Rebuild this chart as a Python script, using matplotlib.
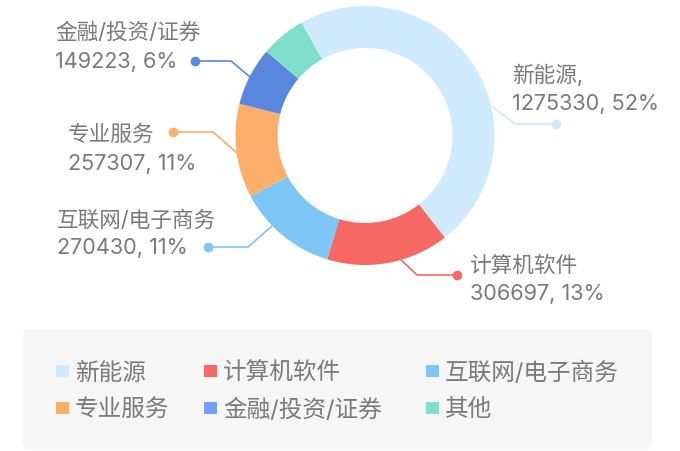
import matplotlib.pyplot as plt
from matplotlib.patches import FancyBboxPatch, Rectangle

plt.rcParams['font.family'] = ['Inter', 'Noto Sans CJK SC', 'DejaVu Sans']

# data
industries = ['新能源', '计算机软件', '互联网/电子商务', '专业服务', '金融/投资/证券', '其他']
values = [1275330, 306697, 270430, 257307, 149223]   # 其他 has no label
percents = [52, 13, 11, 11, 6]
# size of each arc as drawn in the source (% of the ring); the drawn arcs
# do not follow the label numbers, so they are read separately
arc_share = [47.6, 15.3, 12.5, 11.7, 7.3, 5.6]

slice_colors = ['#cfeafd', '#f56864', '#7ec6f6', '#feae6b', '#5a87de', '#7fdfcb']
legend_colors = ['#cfeafd', '#f56864', '#7ec6f6', '#feae6b', '#76a0f8', '#7fdfcb']
text_color = '#7a7a7a'

H = 452


def py(y):
    # pixel row (top = 0) -> axis y (bottom = 0)
    return H - y


fig = plt.figure(figsize=(6.8, 4.52), dpi=100)
ax = fig.add_axes([0, 0, 1, 1])

# donut
ax.pie(arc_share, colors=slice_colors, center=(365, py(136.5)), radius=129.5,
       startangle=119.4, counterclock=False, frame=True,
       wedgeprops=dict(width=42, linewidth=0))

# leader lines + labels (layout only)
leaders = [
    [(493, 108), (515, 125), (556, 125)],
    [(400, 260), (417, 276), (457, 276)],
    [(272, 227), (248, 248), (208, 248)],
    [(237, 154), (213, 133), (173, 133)],
    [(250, 78), (231, 62), (195, 62)],
]
label_pos = [(512, 75), (470, 266), (57, 220), (68, 135), (55, 33)]

for i, pts in enumerate(leaders):
    xs = [p[0] for p in pts]
    ys = [py(p[1]) for p in pts]
    ax.plot(xs, ys, color=slice_colors[i], lw=1.2, solid_capstyle='round')
    ax.plot(xs[-1], ys[-1], 'o', color=slice_colors[i], ms=7, mec='none')

    head = industries[i] + (',' if i == 0 else '')
    tx, ty = label_pos[i]
    ax.text(tx, py(ty), head, fontsize=15.6, color=text_color,
            ha='left', va='center')
    ax.text(tx, py(ty + 28.5), f'{values[i]}, {percents[i]}%', fontsize=15.6,
            color=text_color, ha='left', va='center')

# legend box
ax.add_patch(FancyBboxPatch((23, py(451)), 629, 121,
                            boxstyle='round,pad=0,rounding_size=8',
                            fc='#f6f6f6', ec='none'))

col_x = [56, 204, 426]
row_y = [372, 409]
for i, name in enumerate(industries):
    mx = col_x[i % 3]
    my = row_y[i // 3]
    ax.add_patch(Rectangle((mx, py(my) - 6), 12.5, 12.5,
                           fc=legend_colors[i], ec='none'))
    ax.text(mx + 19, py(my + 1.5), name, fontsize=17, color=text_color,
            ha='left', va='center')

ax.set_xlim(0, 680)
ax.set_ylim(0, H)
ax.axis('off')

fig.savefig('out.png', dpi=100)
